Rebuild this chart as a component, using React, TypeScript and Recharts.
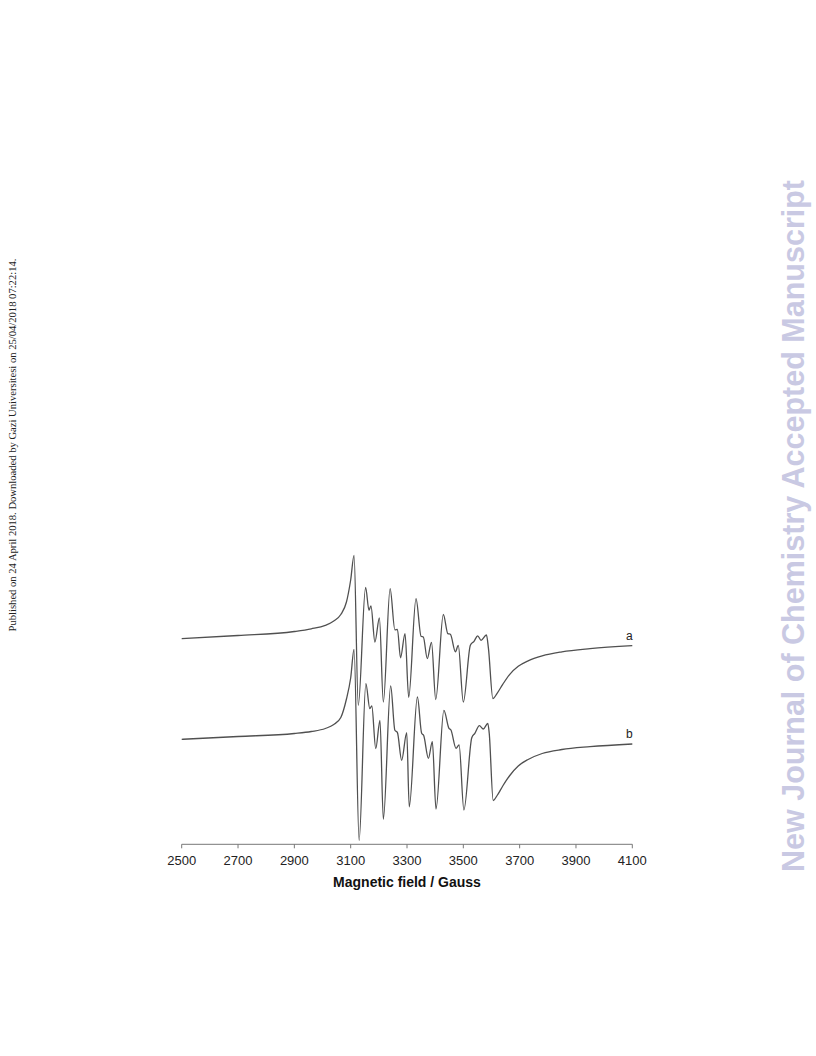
import React from "react";
import { LineChart, Line, XAxis, YAxis } from "recharts";

// EPR spectra, field in Gauss, signal in arbitrary units (traces stacked)
const fieldA = [2500, 2700, 2900, 2960, 3010, 3040, 3065, 3085, 3100, 3112, 3127, 3153, 3165, 3172, 3186, 3202, 3216, 3240, 3257, 3266, 3277, 3293, 3306, 3332, 3350, 3358, 3372, 3387, 3402, 3429, 3445, 3454, 3472, 3482, 3500, 3525, 3538, 3551, 3563, 3582, 3589, 3605, 3620, 3640, 3665, 3695, 3730, 3780, 3850, 3950, 4100];
const signalA = [205.7, 208.8, 212.8, 215.5, 219, 223.3, 229.8, 242.3, 264.3, 289, 139, 257, 234, 238.5, 202.3, 226.3, 142.3, 255.7, 214.5, 215, 186.5, 210.7, 147, 245.7, 208, 207.3, 185.7, 202, 144.8, 229.8, 210.7, 210, 192.5, 199, 142.3, 199, 203, 208.5, 204, 209.3, 196.5, 145.7, 151, 160, 170, 178, 183.5, 188.5, 192.5, 195.7, 198.7];

const fieldB = [2500, 2700, 2900, 2960, 3010, 3040, 3065, 3085, 3100, 3112, 3130, 3154, 3168, 3175, 3189, 3204, 3216, 3242, 3257, 3266, 3281, 3299, 3308, 3337, 3352, 3359, 3376, 3390, 3403, 3431, 3449, 3456, 3474, 3485, 3502, 3530, 3541, 3557, 3571, 3587, 3592, 3606, 3620, 3640, 3665, 3695, 3730, 3780, 3850, 3950, 4100];
const signalB = [105, 107.8, 110.8, 112.8, 115.8, 119.8, 126.8, 145.3, 166.3, 195, 4, 160.7, 135.7, 138.3, 95.7, 124, 25, 158.3, 114, 111.7, 84, 111.7, 37.5, 147.3, 111, 109, 86, 102.6, 35.3, 134, 116, 114.3, 96, 99.3, 34.3, 106.6, 111, 118.6, 115.3, 121, 111, 43.8, 48.8, 58.3, 68.8, 78.3, 84.8, 90.8, 94.8, 97.6, 100.3];

const fieldTicks = [2500, 2700, 2900, 3100, 3300, 3500, 3700, 3900, 4100];

const traceA = fieldA.map((field, i) => ({ field, signal: signalA[i] }));
const traceB = fieldB.map((field, i) => ({ field, signal: signalB[i] }));

const sans = "'Liberation Sans', Arial, sans-serif";

// small letter just above the right end of a trace
const endTag = (tag: string, count: number) => (props: any) => {
  if (props.index !== count - 1) return null;
  return (
    <text x={props.x - 3} y={props.y - 6} textAnchor="middle" fontSize={12} fill="#222" fontFamily={sans}>
      {tag}
    </text>
  );
};

export default function App() {
  return (
    <div style={{ position: "absolute", left: 0, top: 0, width: 816, height: 1056, background: "#fff" }}>
      <LineChart width={816} height={1056} margin={{ top: 544.3, right: 183.7, bottom: 169, left: 181.7 }}>
        <XAxis
          type="number"
          dataKey="field"
          domain={[2500, 4100]}
          ticks={fieldTicks}
          height={42.7}
          stroke="#777"
          tickSize={4}
          tickMargin={7}
          tick={{ fill: "#222", fontSize: 13, fontFamily: sans }}
          label={{ value: "Magnetic field / Gauss", position: "insideBottom", offset: 0, fill: "#111", fontSize: 14, fontWeight: "bold", fontFamily: sans }}
        />
        <YAxis type="number" hide domain={[0, 300]} allowDataOverflow />
        <Line data={traceA} dataKey="signal" type="monotone" stroke="#505050" strokeWidth={1.3} dot={false} isAnimationActive={false} label={endTag("a", traceA.length)} />
        <Line data={traceB} dataKey="signal" type="monotone" stroke="#505050" strokeWidth={1.3} dot={false} isAnimationActive={false} label={endTag("b", traceB.length)} />
      </LineChart>
      <div
        style={{
          position: "absolute",
          left: 12,
          top: 445,
          transform: "translate(-50%, -50%) rotate(-90deg)",
          whiteSpace: "nowrap",
          fontFamily: "'Liberation Serif', 'Times New Roman', serif",
          fontSize: 10.6,
          color: "#222",
        }}
      >
        Published on 24 April 2018. Downloaded by Gazi Universitesi on 25/04/2018 07:22:14.
      </div>
      <div
        style={{
          position: "absolute",
          left: 793,
          top: 526,
          transform: "translate(-50%, -50%) rotate(-90deg)",
          whiteSpace: "nowrap",
          fontFamily: sans,
          fontWeight: "bold",
          fontSize: 30.5,
          color: "#c9c9e3",
        }}
      >
        New Journal of Chemistry Accepted Manuscript
      </div>
    </div>
  );
}
